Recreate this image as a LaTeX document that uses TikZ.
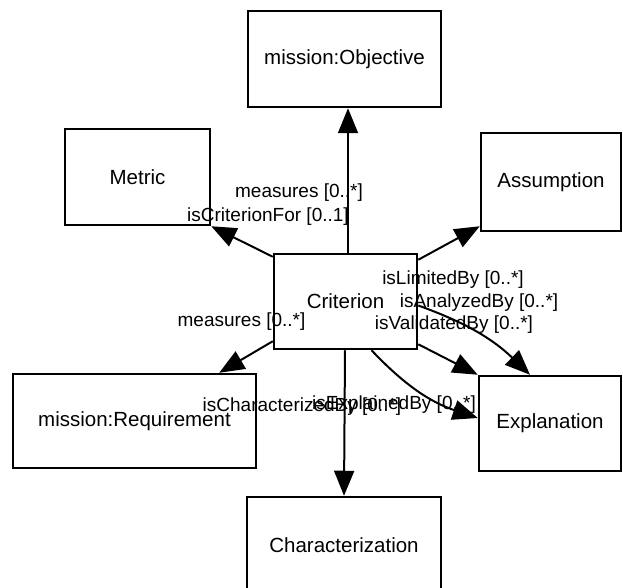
\documentclass[tikz,border=0pt]{standalone}
\usepackage{fontspec}
\setmainfont{Liberation Sans}
\usetikzlibrary{arrows.meta}
\begin{document}
\begin{tikzpicture}[x=1pt,y=-1pt,
  cls/.style={draw, line width=2.5pt, inner sep=0pt, font=\fontsize{20.5}{24}\selectfont},
  rel/.style={line width=2pt, -{Triangle[length=25pt,width=20pt]}},
  lbl/.style={inner sep=0pt, font=\fontsize{19}{22}\selectfont}]
\useasboundingbox (0,0) rectangle (623,588);

% classes
\node[cls, minimum width=193pt, minimum height=96pt] (obj)  at (344.5,59)   {mission:Objective};
\node[cls, minimum width=145pt, minimum height=96pt] (met)  at (137.5,177)  {Metric};
\node[cls, minimum width=140pt, minimum height=98pt] (ass)  at (551,182)    {Assumption};
\node[cls, minimum width=143pt, minimum height=95pt] (crit) at (345.5,301.5){Criterion};
\node[cls, minimum width=243pt, minimum height=94pt] (req)  at (134.5,421)  {mission:Requirement};
\node[cls, minimum width=142pt, minimum height=95pt] (exp)  at (550,423.5)  {Explanation};
\node[cls, minimum width=194pt, minimum height=96pt] (chr)  at (344,545)    {Characterization};

% relations (shifts are in page directions: positive yshift moves up)
\draw[rel] ([xshift=2.5pt]crit.north) -- ([xshift=3.5pt]obj.south);
\draw[rel] ([yshift=-4pt]crit.north west) -- (met.south east);
\draw[rel] ([yshift=-7pt]crit.north east) -- ([yshift=6pt]ass.south west);
\draw[rel] ([yshift=9pt]crit.south west) -- ([xshift=-38pt]req.north east);
\draw[rel] ([yshift=6pt]crit.south east) -- (exp.north west);
\draw[rel] ([yshift=-4pt]crit.east) to[bend left=12] ([xshift=-20pt]exp.north);
\draw[rel] ([xshift=26pt]crit.south) to[bend right=14] ([yshift=5.5pt]exp.west);
\draw[rel] ([xshift=-0.5pt]crit.south) -- (chr.north);

% role labels
\node[lbl] (l1) at (299,193)   {measures [0..*]};
\node[lbl] (l2) at (268,217)   {isCriterionFor [0..1]};
\node[lbl] (l3) at (453,280)   {isLimitedBy [0..*]};
\node[lbl] (l4) at (479,303)   {isAnalyzedBy [0..*]};
\node[lbl] (l5) at (454,325)   {isValidatedBy [0..*]};
\node[lbl] (l6) at (241.5,322) {measures [0..*]};
\node[lbl] (l7) at (302,407)   {isCharacterizedBy [0..*]};
\node[lbl] (l8) at (394,405)   {isExplainedBy [0..*]};
\end{tikzpicture}
\end{document}
